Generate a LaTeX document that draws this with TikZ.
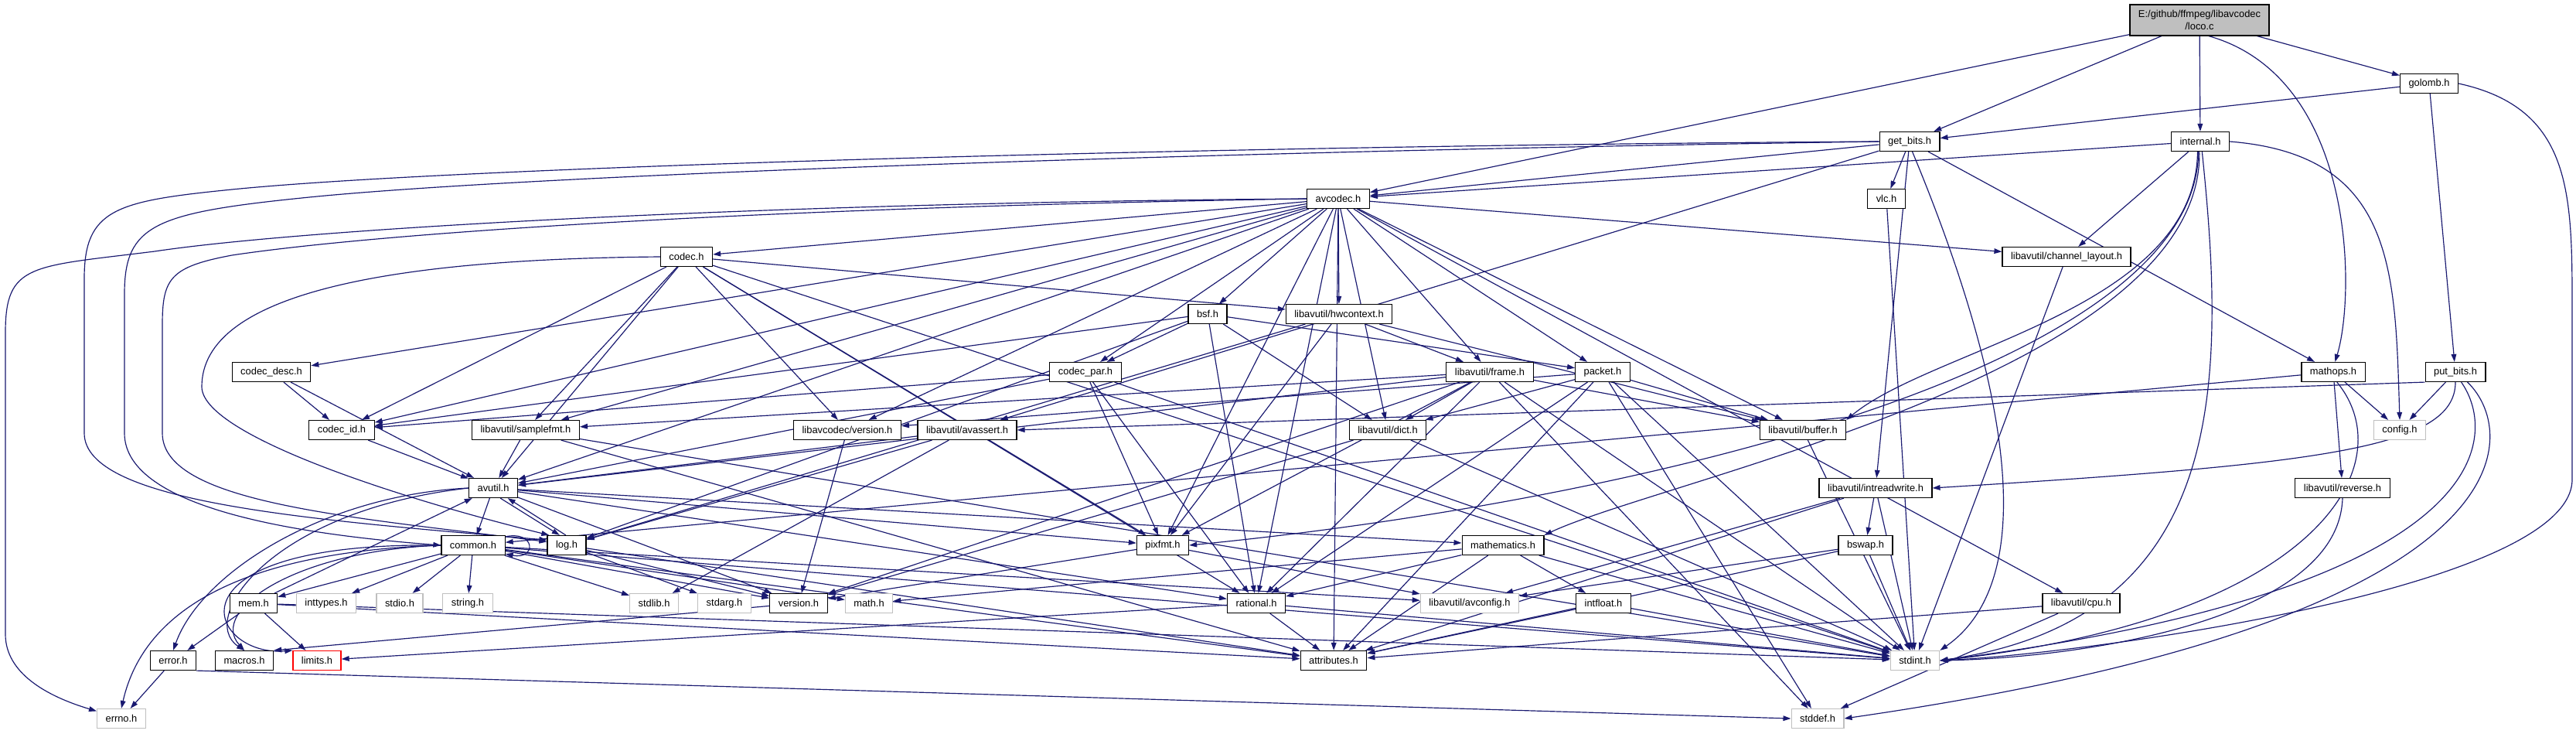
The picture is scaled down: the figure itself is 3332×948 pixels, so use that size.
\documentclass[tikz,border=0pt]{standalone}
\usepackage{fontspec}
\setmainfont{Liberation Sans}
\usetikzlibrary{arrows.meta,backgrounds}
\definecolor{edgeblue}{HTML}{191970}
\definecolor{boxgray}{HTML}{BFBFBF}

\begin{document}
\begin{tikzpicture}[x=0.03cm, y=-0.03cm,
	every node/.style={font=\fontsize{11}{13}\selectfont, inner xsep=0.33cm, inner ysep=0pt, minimum height=0.75cm, fill=white},
	hdr/.style={draw=black, line width=1pt},
	sys/.style={draw=boxgray, line width=1pt},
	miss/.style={draw=red, line width=1pt},
	inc/.style={draw=edgeblue, line width=1pt, -{Triangle[length=0.3cm, width=0.2cm]}}]
	\useasboundingbox (0,0) rectangle (3332,948);

	% rows from top to bottom
	\node[hdr, fill=boxgray, align=center, minimum height=1.2cm] (loco) at (2845,26) {E:/github/ffmpeg/libavcodec\\/loco.c};
	\node[hdr] (golomb) at (3142,108) {golomb.h};
	\node[hdr] (getbits) at (2470,183) {get\_bits.h};
	\node[hdr] (internal) at (2846,183) {internal.h};
	\node[hdr] (vlc) at (2440,257) {vlc.h};
	\node[hdr] (avcodec) at (1731,257) {avcodec.h};
	\node[hdr] (chlayout) at (2673,332) {libavutil/channel\_layout.h};
	\node[hdr] (codec) at (888,332) {codec.h};
	\node[hdr] (bsf) at (1562,406) {bsf.h};
	\node[hdr] (hwctx) at (1732,406) {libavutil/hwcontext.h};
	\node[hdr] (codecdesc) at (351,481) {codec\_desc.h};
	\node[hdr] (codecpar) at (1404,481) {codec\_par.h};
	\node[hdr] (frame) at (1927,481) {libavutil/frame.h};
	\node[hdr] (packet) at (2073,481) {packet.h};
	\node[hdr] (mathops) at (3018,481) {mathops.h};
	\node[hdr] (putbits) at (3176,481) {put\_bits.h};
	\node[hdr] (codecid) at (442,556) {codec\_id.h};
	\node[hdr] (samplefmt) at (680,556) {libavutil/samplefmt.h};
	\node[hdr] (lavcver) at (1096,556) {libavcodec/version.h};
	\node[hdr] (avassert) at (1251,556) {libavutil/avassert.h};
	\node[hdr] (dict) at (1795,556) {libavutil/dict.h};
	\node[hdr] (buffer) at (2332,556) {libavutil/buffer.h};
	\node[sys] (config) at (3104,556) {config.h};
	\node[hdr] (avutil) at (638,631) {avutil.h};
	\node[hdr] (intrw) at (2426,631) {libavutil/intreadwrite.h};
	\node[hdr] (reverse) at (3030,631) {libavutil/reverse.h};
	\node[hdr] (common) at (612,705) {common.h};
	\node[hdr] (logh) at (733,705) {log.h};
	\node[hdr] (pixfmt) at (1504,705) {pixfmt.h};
	\node[hdr] (mathem) at (1944,705) {mathematics.h};
	\node[hdr] (bswap) at (2413,705) {bswap.h};
	\node[hdr] (mem) at (328,780) {mem.h};
	\node[sys] (inttypes) at (422,780) {inttypes.h};
	\node[sys] (stdio) at (517,780) {stdio.h};
	\node[sys] (string) at (605,780) {string.h};
	\node[sys] (stdlib) at (846,780) {stdlib.h};
	\node[sys] (stdarg) at (937,780) {stdarg.h};
	\node[hdr] (version) at (1033,780) {version.h};
	\node[sys] (mathh) at (1124,780) {math.h};
	\node[hdr] (rational) at (1625,780) {rational.h};
	\node[sys] (avconfig) at (1901,780) {libavutil/avconfig.h};
	\node[hdr] (intfloat) at (2074,780) {intfloat.h};
	\node[hdr] (cpu) at (2692,780) {libavutil/cpu.h};
	\node[hdr] (error) at (224,854) {error.h};
	\node[hdr] (macros) at (316,854) {macros.h};
	\node[miss] (limits) at (410,854) {limits.h};
	\node[hdr] (attrs) at (1725,854) {attributes.h};
	\node[sys] (stdint) at (2477,854) {stdint.h};
	\node[sys] (errno) at (157,929) {errno.h};
	\node[sys] (stddef) at (2351,929) {stddef.h};

	\begin{pgfonlayer}{background}
		\fill[white] (0,0) rectangle (3332,948);
		% includes, straight ones
		\foreach \t in {avcodec,getbits,internal,golomb} \draw[inc] (loco) -- (\t);
		\foreach \t in {getbits,putbits} \draw[inc] (golomb) -- (\t);
		\foreach \t in {avcodec,vlc,mathops,intrw,avassert} \draw[inc] (getbits) -- (\t);
		\foreach \t in {avcodec,chlayout} \draw[inc] (internal) -- (\t);
		\draw[inc] (vlc) -- (stdint);
		\foreach \t in {samplefmt,attrs,avutil,buffer,cpu,chlayout,dict,frame,hwctx,pixfmt,rational,bsf,codec,codecdesc,codecpar,codecid,packet,lavcver} \draw[inc] (avcodec) -- (\t);
		\draw[inc] (chlayout) -- (stdint);
		\foreach \t in {stdint,avutil,hwctx,pixfmt,rational,samplefmt,codecid,lavcver} \draw[inc] (codec) -- (\t);
		\foreach \t in {dict,logh,rational,codecid,codecpar,packet} \draw[inc] (bsf) -- (\t);
		\foreach \t in {buffer,frame,logh,pixfmt} \draw[inc] (hwctx) -- (\t);
		\foreach \t in {avutil,codecid} \draw[inc] (codecdesc) -- (\t);
		\foreach \t in {stdint,avutil,rational,pixfmt,codecid} \draw[inc] (codecpar) -- (\t);
		\foreach \t in {stddef,stdint,avutil,buffer,dict,rational,samplefmt,pixfmt,version} \draw[inc] (frame) -- (\t);
		\foreach \t in {stddef,stdint,attrs,buffer,dict,rational,lavcver} \draw[inc] (packet) -- (\t);
		\foreach \t in {common,reverse,config} \draw[inc] (mathops) -- (\t);
		\draw[inc] (putbits) -- (config);
		\draw[inc] (putbits.south west) -- (avassert.east);
		\draw[inc] (codecid) -- (avutil);
		\foreach \t in {stdint,avutil,attrs} \draw[inc] (samplefmt) -- (\t);
		\draw[inc] (lavcver) -- (version);
		\foreach \t in {stdlib,avutil,logh} \draw[inc] (avassert) -- (\t);
		\foreach \t in {stdint,version} \draw[inc] (dict) -- (\t);
		\draw[inc] (buffer) -- (stdint);
		\foreach \t in {common,rational,version,mathem,pixfmt} \draw[inc] (avutil) -- (\t);
		\draw[inc] (avutil.-55) -- (logh.125);
		\draw[inc] (logh.95) -- (avutil.-35);
		\foreach \t in {stdint,avconfig,attrs,bswap} \draw[inc] (intrw) -- (\t);
		\foreach \t in {inttypes,mathh,stdint,stdio,stdlib,string,attrs,version,avconfig,mem} \draw[inc] (common) -- (\t);
		\foreach \t in {stdarg,attrs,version} \draw[inc] (logh) -- (\t);
		\foreach \t in {avconfig,version} \draw[inc] (pixfmt) -- (\t);
		\foreach \t in {stdint,mathh,attrs,rational,intfloat} \draw[inc] (mathem) -- (\t);
		\foreach \t in {stdint,avconfig,attrs} \draw[inc] (bswap) -- (\t);
		\foreach \t in {limits,stdint,attrs,error,avutil} \draw[inc] (mem) -- (\t);
		\draw[inc] (version) -- (macros.north east);
		\foreach \t in {stdint,limits,attrs} \draw[inc] (rational) -- (\t);
		\foreach \t in {stdint,attrs} \draw[inc] (intfloat) -- (\t);
		\foreach \t in {attrs,stddef} \draw[inc] (cpu) -- (\t);
		\draw[inc] (error) -- (errno);
		\draw[inc] (error.south east) -- (stddef.west);

		% long ones round the left side
		\draw[inc] (avcodec.west) .. controls (1000,262) and (400,295) .. (200,325) .. controls (40,345) and (7,340) .. (7,430) -- (7,820) .. controls (7,870) and (60,900) .. (errno);
		\draw[inc] (getbits.west) .. controls (1600,188) and (600,215) .. (300,245) .. controls (150,260) and (109,270) .. (109,360) -- (109,560) .. controls (109,650) and (400,672) .. (logh.165);
		\draw[inc] (getbits.west) .. controls (1600,195) and (700,225) .. (400,255) .. controls (200,275) and (161,290) .. (161,380) -- (161,560) .. controls (161,660) and (400,692) .. (common.west);
		\draw[inc] (avcodec.west) .. controls (1000,268) and (500,300) .. (300,330) .. controls (220,345) and (210,360) .. (210,420) -- (210,560) .. controls (210,650) and (450,668) .. (logh.170);
		\draw[inc] (codec.west) .. controls (500,335) and (261,380) .. (261,500) .. controls (261,560) and (500,640) .. (logh.150);
		\draw[inc] (common.west) .. controls (350,712) and (190,770) .. (errno.north);
		\draw[inc] (avutil.west) .. controls (420,640) and (260,740) .. (error.north);
		\draw[inc] (avutil.west) .. controls (350,660) and (255,800) .. (macros.north);
		\draw[inc] (common.west) .. controls (380,712) and (270,790) .. (macros.north);
		\draw[inc] (common.west) .. controls (200,700) and (270,850) .. (limits.north west);
		\draw[inc] (common.15) .. controls +(40,-8) and +(40,8) .. (common.-15);

		% long ones round the right side
		\draw[inc] (internal.-105) .. controls (2840,400) and (2500,450) .. (buffer.north east);
		\draw[inc] (internal.-100) .. controls (2840,480) and (2100,650) .. (pixfmt.east);
		\draw[inc] (internal.-95) .. controls (2850,480) and (2150,620) .. (mathem.north east);
		\draw[inc] (internal.east) .. controls (3098,200) and (3098,350) .. (config.north);
		\draw[inc] (loco.-60) .. controls (3047,100) and (3047,380) .. (mathops.80);
		\draw[inc] (golomb.east) .. controls (3327,140) and (3327,250) .. (3327,400) -- (3327,620) .. controls (3327,760) and (2700,845) .. (stdint.east);
		\draw[inc] (putbits.-60) .. controls (3230,560) and (3240,760) .. (stdint.east);
		\draw[inc] (putbits.-40) .. controls (3260,560) and (3280,800) .. (stddef.east);
		\draw[inc] (putbits.south) .. controls (3176,580) and (3000,600) .. (intrw.east);
		\draw[inc] (mathops.-70) .. controls (3110,600) and (3000,800) .. (stdint.east);
		\draw[inc] (reverse.south) .. controls (3025,800) and (2700,850) .. (stdint.east);
		\draw[inc] (internal.-80) .. controls (2880,500) and (2880,800) .. (stdint.east);
		\draw[inc] (getbits.-75) .. controls (2600,500) and (2640,750) .. (stdint.north east);
	\end{pgfonlayer}
\end{tikzpicture}
\end{document}
